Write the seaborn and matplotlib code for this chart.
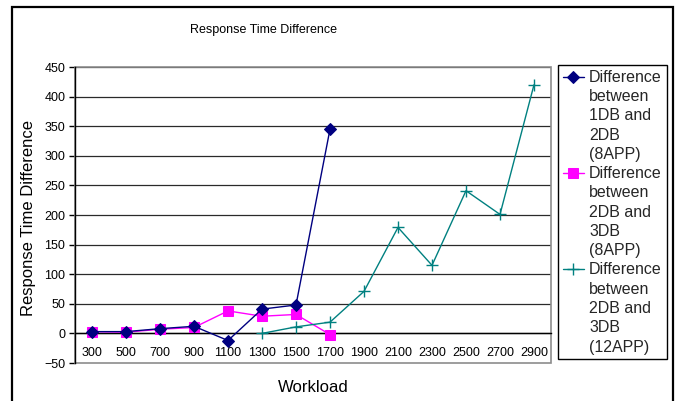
import matplotlib
matplotlib.use("Agg")
import matplotlib.pyplot as plt
import seaborn as sns
import pandas as pd
import numpy as np
from matplotlib.patches import Rectangle
from matplotlib.ticker import FixedLocator, MultipleLocator
from matplotlib.legend_handler import HandlerLine2D

# ---- data ----
workload_s1 = ["300", "500", "700", "900", "1100", "1300", "1500", "1700"]
diff_1db_2db_8app = [3, 3, 8, 12, -12, 41, 48, 345]

workload_s2 = ["300", "500", "700", "900", "1100", "1300", "1500", "1700"]
diff_2db_3db_8app = [3, 2, 7, 10, 38, 29, 32, -2]

workload_s3 = ["1300", "1500", "1700", "1900", "2100", "2300", "2500", "2700", "2900"]
diff_2db_3db_12app = [0, 11, 19, 71, 179, 115, 241, 201, 420]

labels = [
    "Difference\nbetween\n1DB and\n2DB\n(8APP)",
    "Difference\nbetween\n2DB and\n3DB\n(8APP)",
    "Difference\nbetween\n2DB and\n3DB\n(12APP)",
]
title = "Response Time Difference"
xlabel = "Workload"
ylabel = "Response Time Difference"

sns.set_theme(style="white")
plt.rcParams["font.family"] = ["Liberation Sans", "DejaVu Sans"]

W, H = 681, 401
fig = plt.figure(figsize=(W / 100, H / 100), dpi=100)
fig.patch.set_facecolor("white")

# outer chart frame
fig.patches.append(Rectangle((12 / W, -0.05), (673 - 12) / W, 1.05 - 7 / H,
                             transform=fig.transFigure, fill=False,
                             edgecolor="black", linewidth=1.6, clip_on=False))

ax = fig.add_axes([75 / W, 1 - 363 / H, (551 - 75) / W, (363 - 67) / H])
ax.set_facecolor("white")

df1 = pd.DataFrame({"Workload": workload_s1, "value": diff_1db_2db_8app})
df2 = pd.DataFrame({"Workload": workload_s2, "value": diff_2db_3db_8app})
df3 = pd.DataFrame({"Workload": workload_s3, "value": diff_2db_3db_12app})

sns.lineplot(data=df1, x="Workload", y="value", sort=False, ax=ax,
             color="#000080", marker="D", markersize=6, markeredgecolor="#000080",
             linewidth=1.0, label=labels[0], zorder=4)
sns.lineplot(data=df2, x="Workload", y="value", sort=False, ax=ax,
             color="#FF00FF", marker="s", markersize=7.5, markeredgecolor="#FF00FF",
             linewidth=1.0, label=labels[1], zorder=3)
sns.lineplot(data=df3, x="Workload", y="value", sort=False, ax=ax,
             color="#008080", marker="+", markersize=8, markeredgewidth=1.0,
             markeredgecolor="#008080",
             linewidth=1.0, label=labels[2], zorder=3)

ax.set_xlim(-0.5, 13.5)
ax.set_ylim(-50, 450)

# gridlines
ax.yaxis.set_major_locator(MultipleLocator(50))
for yv in np.arange(0, 451, 50):
    ax.axhline(yv, color="#2a2a2a", linewidth=0.9, zorder=1)

# plot area border (gray)
ax.add_patch(Rectangle((0, 0), 1, 1, transform=ax.transAxes, fill=False,
                       edgecolor="#8c8c8c", linewidth=1.2, zorder=2, clip_on=False))
for s in ["top", "right"]:
    ax.spines[s].set_visible(False)
ax.spines["left"].set_color("black")
ax.spines["left"].set_linewidth(1.0)
ax.spines["bottom"].set_position(("data", 0))
ax.spines["bottom"].set_color("black")
ax.spines["bottom"].set_linewidth(1.0)
ax.spines["bottom"].set_zorder(2.5)

# ticks
ax.xaxis.set_minor_locator(FixedLocator(np.arange(-0.5, 13.6, 1)))
ax.tick_params(axis="x", which="major", length=0, pad=10, labelsize=9, colors="black")
ax.tick_params(axis="x", which="minor", length=4, width=1, direction="out", color="black")
ax.tick_params(axis="y", which="major", length=4, width=1, direction="out",
               left=True, labelsize=9, colors="black", pad=3)

ax.set_xlabel(xlabel, fontsize=12, color="black")
ax.set_ylabel(ylabel, fontsize=12, color="black")
ax.xaxis.set_label_coords((313 - 75) / (551 - 75), (363 - 380) / (363 - 67))
ax.yaxis.set_label_coords((36 - 75) / (551 - 75), (363 - 218) / (363 - 67))

fig.text(263 / W, 1 - 30 / H, title, ha="center", va="center", fontsize=9, color="black")


class TopHandler(HandlerLine2D):
    """Place the legend key next to the first line of a multi-line label."""
    def __init__(self, shift=0.0, **kw):
        super().__init__(**kw)
        self.shift = shift

    def create_artists(self, legend, orig_handle, xdescent, ydescent, width,
                       height, fontsize, trans):
        arts = super().create_artists(legend, orig_handle, xdescent, ydescent,
                                      width, height, fontsize, trans)
        for a in arts:
            a.set_ydata(np.asarray(a.get_ydata(), dtype=float) + self.shift)
        return arts


handles, labs = ax.get_legend_handles_labels()
ax.get_legend().remove()
shift_pt = 28.5
leg = fig.legend(handles, labs, loc="upper left",
                 bbox_to_anchor=(558 / W, 1 - 65 / H),
                 bbox_transform=fig.transFigure, borderaxespad=0,
                 fontsize=11.5, frameon=True, fancybox=False, shadow=False,
                 handlelength=1.3, handletextpad=0.35, borderpad=0.3,
                 labelspacing=0.25,
                 handler_map={h: TopHandler(shift=shift_pt) for h in handles})
frame = leg.get_frame()
frame.set_edgecolor("black")
frame.set_linewidth(1.0)
frame.set_facecolor("white")
frame.set_alpha(1)
for t in leg.get_texts():
    t.set_linespacing(1.36)

fig.savefig("out.png", dpi=100)
